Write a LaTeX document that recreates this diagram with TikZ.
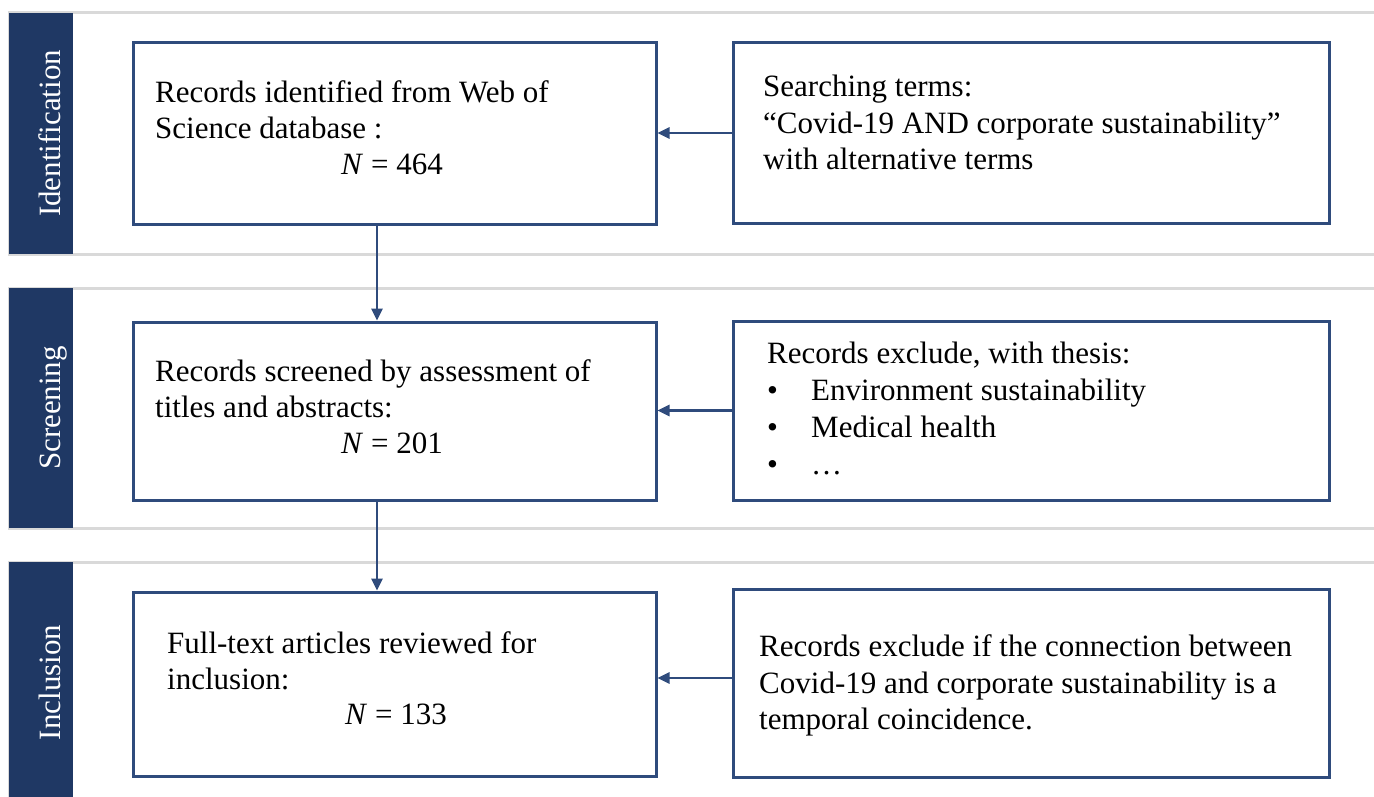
\documentclass[tikz,border=0pt]{standalone}
\usepackage{fontspec}
\setmainfont{Liberation Serif}
\usetikzlibrary{arrows.meta,calc}
\definecolor{navybar}{HTML}{1F3864}
\definecolor{navyline}{HTML}{2F4B7C}
\definecolor{bandgrey}{HTML}{D9D9D9}
\tikzset{
  band/.style={draw=bandgrey,line width=3pt},
  sidebar/.style={fill=navybar,draw=none,inner sep=0pt,minimum width=64pt},
  sidelabel/.style={text=white,rotate=90,anchor=base,inner sep=0pt,font=\fontsize{31}{36}\selectfont},
  stepbox/.style={draw=navyline,line width=3pt,fill=white,inner sep=0pt,rectangle},
  txt/.style={anchor=base west,inner sep=0pt,font=\fontsize{31}{36}\selectfont},
  ctxt/.style={anchor=base,inner sep=0pt,font=\fontsize{31}{36}\selectfont},
  arr/.style={draw=navyline,line width=2.6pt,-{Triangle[width=11pt,length=12pt]}},
}
\begin{document}
\begin{tikzpicture}[x=1pt,y=-1pt]
\useasboundingbox[fill=white] (0,0) rectangle (1374,797);
\clip (0,0) rectangle (1374,797);
% bands
\draw[band] (1374,13) -| (9,254) -- (1374,254);
\draw[band] (1374,288) -| (9,528) -- (1374,528);
\draw[band] (1374,562) -| (9,812);
% side bars
\node[sidebar,minimum height=241pt] (bar1) at (41,133.5) {};
\node[sidebar,minimum height=240pt] (bar2) at (41,408) {};
\node[sidebar,minimum height=250pt] (bar3) at (41,687) {};
\node[sidelabel] (lab1) at (60,133.5) {Identification};
\node[sidelabel] (lab2) at (60,408) {Screening};
\node[sidelabel] (lab3) at (60,682.5) {Inclusion};
% boxes
\node[stepbox,minimum width=523pt,minimum height=181pt] (l1) at (394.5,133.5) {};
\node[stepbox,minimum width=596pt,minimum height=180pt] (r1) at (1031,133) {};
\node[stepbox,minimum width=523pt,minimum height=178pt] (l2) at (394.5,411) {};
\node[stepbox,minimum width=596pt,minimum height=179pt] (r2) at (1031,410.5) {};
\node[stepbox,minimum width=523pt,minimum height=184pt] (l3) at (394.5,684) {};
\node[stepbox,minimum width=596pt,minimum height=188pt] (r3) at (1031,683) {};
% texts box 1
\node[txt] (t1a) at (155,103) {Records identified from Web of};
\node[txt] (t1b) at (155,139) {Science database :};
\node[ctxt] (t1c) at (392,175) {\textit{N} = 464};
\node[txt] (s1a) at (763,97) {Searching terms:};
\node[txt] (s1b) at (763,134) {“Covid-19 AND corporate sustainability”};
\node[txt] (s1c) at (763,170) {with alternative terms};
% texts box 2
\node[txt] (t2a) at (155,381) {Records screened by assessment of};
\node[txt] (t2b) at (155,417) {titles and abstracts:};
\node[ctxt] (t2c) at (392,453) {\textit{N} = 201};
\node[txt] (s2a) at (767,363) {Records exclude, with thesis:};
\node[txt] (b2a) at (767,400) {•};
\node[txt] (b2b) at (767,437) {•};
\node[txt] (b2c) at (767,474) {•};
\node[txt] (s2b) at (811,400) {Environment sustainability};
\node[txt] (s2c) at (811,437) {Medical health};
\node[txt] (s2d) at (811,474) {…};
% texts box 3
\node[txt] (t3a) at (167,653) {Full-text articles reviewed for};
\node[txt] (t3b) at (167,689) {inclusion:};
\node[ctxt] (t3c) at (396,724) {\textit{N} = 133};
\node[txt] (s3a) at (759,656) {Records exclude if the connection between};
\node[txt] (s3b) at (759,693) {Covid-19 and corporate sustainability is a};
\node[txt] (s3c) at (759,729) {temporal coincidence.};
% arrows
\draw[arr] ([xshift=-17.5pt]l1.south) -- ([xshift=-17.5pt]l2.north);
\draw[arr] ([xshift=-17.5pt]l2.south) -- ([xshift=-17.5pt]l3.north);
\draw[arr] (r1.west) -- (r1.west -| l1.east);
\draw[arr] (r2.west) -- (r2.west -| l2.east);
\draw[arr] ([yshift=5pt]r3.west) -- ([yshift=5pt]r3.west -| l3.east);
\end{tikzpicture}
\end{document}
